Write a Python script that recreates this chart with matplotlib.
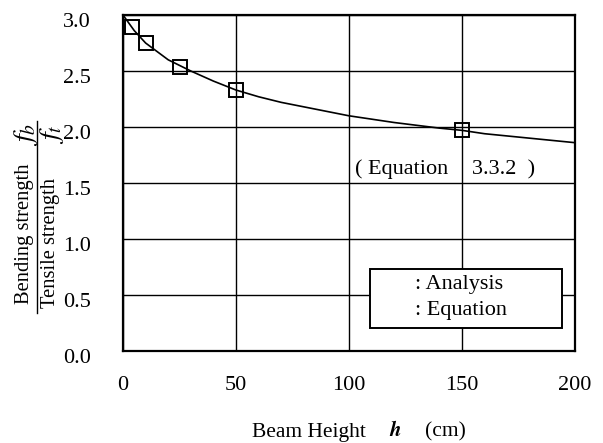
import matplotlib
matplotlib.use('Agg')
import matplotlib.pyplot as plt
import matplotlib.transforms as mtransforms
from matplotlib.lines import Line2D
from matplotlib.patches import Rectangle

plt.rcParams['font.family'] = ['Liberation Serif', 'DejaVu Serif']
plt.rcParams['mathtext.fontset'] = 'stix'

# analysis points
h_analysis = [4, 10, 25, 50, 150]
ratio_analysis = [2.89, 2.75, 2.54, 2.33, 1.97]

# equation curve
h_eq = [0, 5, 10, 20, 25, 30, 40, 50, 60, 70, 80, 90, 100, 120, 140, 150, 160, 180, 200]
ratio_eq = [3.0, 2.86, 2.75, 2.60, 2.55, 2.50, 2.41, 2.33, 2.27, 2.22, 2.18, 2.14,
            2.10, 2.04, 1.99, 1.97, 1.94, 1.90, 1.86]

x_ticks = [0, 50, 100, 150, 200]
y_ticks = [0.0, 0.5, 1.0, 1.5, 2.0, 2.5, 3.0]
legend_labels = [': Analysis', ': Equation']

W, H = 603, 443
fig = plt.figure(figsize=(W / 100, H / 100), dpi=100)
ax = fig.add_axes([123 / W, 1 - 351 / H, 452 / W, 336 / H])

ax.plot(h_eq, ratio_eq, color='black', lw=1.2, zorder=3)
ax.plot(h_analysis, ratio_analysis, ls='none', marker='s', ms=10, mfc='none',
        mec='black', mew=1.4, zorder=4, clip_on=False)

ax.set_xlim(0, 200)
ax.set_ylim(0, 3.0)
ax.set_xticks(x_ticks)
ax.set_yticks(y_ticks)
ax.set_yticklabels([f'{v:.1f}' for v in y_ticks])
ax.grid(True, color='black', lw=1.0)
ax.set_axisbelow(True)
ax.tick_params(length=0, labelsize=16)
ax.tick_params(axis='x', pad=18)
ax.tick_params(axis='y', pad=23)
for s in ax.spines.values():
    s.set_linewidth(1.6)

# y tick labels sit a little below their grid lines in the reference
shift = mtransforms.ScaledTranslation(0, -5 / 100, fig.dpi_scale_trans)
for lbl in ax.get_yticklabels():
    lbl.set_transform(lbl.get_transform() + shift)

# equation label
ax.text(102.5, 1.62, '( Equation', fontsize=16, ha='left', va='center')
ax.text(154.5, 1.62, '3.3.2  )', fontsize=16, ha='left', va='center')


def to_ax(px, py):
    return ((px - 123) / 452, (351 - py) / 336)


# legend box, text only
x0, y0 = to_ax(370, 328)
x1, y1 = to_ax(562, 269)
ax.add_patch(Rectangle((x0, y0), x1 - x0, y1 - y0, transform=ax.transAxes,
                       facecolor='white', edgecolor='black', lw=1.4, zorder=5))
for lab, py in zip(legend_labels, [285, 310]):
    lx, ly = to_ax(415, py)
    ax.text(lx, ly, lab, transform=ax.transAxes, fontsize=16, ha='left',
            va='center', zorder=6)

fig.text(252 / W, 1 - 432 / H, 'Beam Height', fontsize=15.5, ha='left', va='center')
fig.text(395 / W, 1 - 431 / H, r'$\boldsymbol{h}$', fontsize=15, ha='center', va='center')
fig.text(425 / W, 1 - 432 / H, '(cm)', fontsize=15.5, ha='left', va='center')

# y label as a fraction
fig.text(24 / W, 1 - 304 / H, 'Bending strength', rotation=90, fontsize=14.8,
         ha='center', va='bottom')
fig.text(26 / W, 1 - 134 / H, r'$f_b$', rotation=90, fontsize=20,
         ha='center', va='center')
fig.text(50 / W, 1 - 308 / H, 'Tensile strength', rotation=90, fontsize=14.8,
         ha='center', va='bottom')
fig.text(52 / W, 1 - 134 / H, r'$f_t$', rotation=90, fontsize=20,
         ha='center', va='center')
fig.add_artist(Line2D([37 / W, 37 / W], [1 - 313 / H, 1 - 121 / H],
                      color='black', lw=1.0, transform=fig.transFigure))

fig.savefig('out.png', dpi=100)
